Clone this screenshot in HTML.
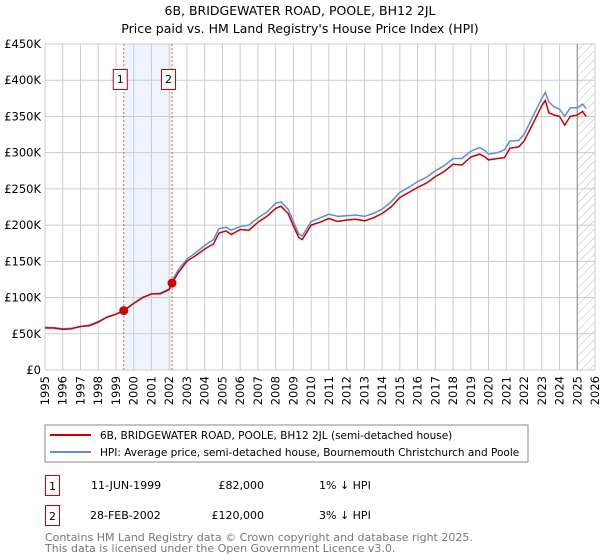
<!DOCTYPE html>
<html><head><meta charset="utf-8"><style>
body{margin:0;background:#fff}
svg{display:block;font-family:"DejaVu Sans","Liberation Sans",sans-serif}
</style></head><body>
<svg id="chart" width="600" height="560" viewBox="0 0 600 560">
<defs><pattern id="hatch" width="6" height="6" patternUnits="userSpaceOnUse" patternTransform="rotate(45)"><line x1="0" y1="0" x2="0" y2="6" stroke="#bbb" stroke-width="1"/></pattern></defs>
<text x="300" y="15" text-anchor="middle" font-size="12.5">6B, BRIDGEWATER ROAD, POOLE, BH12 2JL</text>
<text x="300" y="33" text-anchor="middle" font-size="12.5">Price paid vs. HM Land Registry's House Price Index (HPI)</text>
<g id="grid"></g>
<g id="marks"></g>
<g id="axes"></g>
<rect x="45" y="425" width="483" height="37" fill="none" stroke="#888"/>
<line x1="50" y1="435" x2="91" y2="435" stroke="#cc0000" stroke-width="2"/>
<text x="100" y="439" font-size="10.5">6B, BRIDGEWATER ROAD, POOLE, BH12 2JL (semi-detached house)</text>
<line x1="50" y1="452" x2="91" y2="452" stroke="#5b8fd4" stroke-width="2"/>
<text x="100" y="456" font-size="10.5">HPI: Average price, semi-detached house, Bournemouth Christchurch and Poole</text>
<g font-size="11">
<rect x="45.5" y="475.5" width="14" height="20" fill="none" stroke="#cc0000"/>
<text x="52.5" y="490" text-anchor="middle">1</text>
<text x="91" y="489">11-JUN-1999</text>
<text x="264" y="489" text-anchor="end">£82,000</text>
<text x="319" y="489">1% ↓ HPI</text>
<rect x="45.5" y="505.5" width="14" height="20" fill="none" stroke="#cc0000"/>
<text x="52.5" y="520" text-anchor="middle">2</text>
<text x="90" y="519">28-FEB-2002</text>
<text x="264" y="519" text-anchor="end">£120,000</text>
<text x="319" y="519">3% ↓ HPI</text>
</g>
<text x="45" y="541" font-size="11" fill="#777">Contains HM Land Registry data © Crown copyright and database right 2025.</text>
<text x="45" y="552" font-size="11" fill="#777">This data is licensed under the Open Government Licence v3.0.</text>
</svg>
<script>
const yearTicks=[1995,1996,1997,1998,1999,2000,2001,2002,2003,2004,2005,2006,2007,2008,2009,2010,2011,2012,2013,2014,2015,2016,2017,2018,2019,2020,2021,2022,2023,2024,2025,2026];
const valueTicks=[0,50,100,150,200,250,300,350,400,450];
const valueTickLabels=["£0","£50K","£100K","£150K","£200K","£250K","£300K","£350K","£400K","£450K"];
const hpiYears=[1995.0,1995.5,1996.0,1996.5,1997.0,1997.5,1998.0,1998.5,1999.0,1999.44,2000.0,2000.5,2001.0,2001.5,2002.0,2002.16,2002.5,2003.0,2003.5,2004.0,2004.5,2004.8,2005.2,2005.5,2006.0,2006.5,2007.0,2007.5,2008.0,2008.3,2008.7,2009.0,2009.3,2009.5,2010.0,2010.5,2011.0,2011.5,2012.0,2012.5,2013.0,2013.5,2014.0,2014.5,2015.0,2015.5,2016.0,2016.5,2017.0,2017.5,2018.0,2018.5,2019.0,2019.5,2019.8,2020.0,2020.5,2020.9,2021.2,2021.7,2022.0,2022.5,2023.0,2023.2,2023.4,2023.7,2024.0,2024.3,2024.6,2025.0,2025.3,2025.5];
const hpiValues=[59,58.5,57,57.5,60,62,67,73,77,82.5,92,100,105,106,112,123,138,153,162,172,180,195,197,193,198,200,210,218,230,232,222,205,188,185,205,210,215,212,213,214,212,216,222,232,245,252,260,266,275,282,292,292,302,307,303,298,300,304,316,317,325,350,375,383,370,363,360,350,362,362,367,361];
const priceValues=[58,58,56,57,60,61,66,73,77,82,92,100,105,105,111,120,134,150,158,167,174,189,192,187,194,193,204,212,223,226,216,199,183,180,200,204,209,205,207,208,206,210,216,225,238,245,252,258,267,274,284,283,294,298,294,290,292,293,306,308,316,340,365,372,355,352,350,338,350,352,357,350];
const saleYears=[1999.44,2002.16];
const saleValues=[82,120];
const saleLabels=["1","2"];
const dataEndYear=2025.0;

const X0=45,X1=595,Y0=370,Y1=44;
const x=y=>X0+(y-1995)/(2026-1995)*(X1-X0);
const yv=v=>Y0-v/450*(Y0-Y1);
const NS="http://www.w3.org/2000/svg";
function mk(tag,attrs,parent){const e=document.createElementNS(NS,tag);for(const k in attrs)e.setAttribute(k,attrs[k]);parent.appendChild(e);return e;}
const grid=document.getElementById('grid'),marks=document.getElementById('marks'),axes=document.getElementById('axes');

let sh=mk('rect',{x:x(saleYears[0]),y:Y1,width:x(saleYears[1])-x(saleYears[0]),height:Y0-Y1,fill:'#eef3fc'},grid);


let ht=mk('rect',{x:x(dataEndYear),y:Y1,width:X1-x(dataEndYear),height:Y0-Y1,fill:'url(#hatch)'},grid);


yearTicks.forEach(t=>{
  const l=mk('line',{x1:x(t),x2:x(t),y1:Y1,y2:Y0,stroke:'#ccc','stroke-width':1},grid);
  
  
  const tx=mk('text',{x:0,y:0,'font-size':11.5,'text-anchor':'end',transform:`translate(${x(t)+4},${Y0+6}) rotate(-90)`},axes);
  tx.textContent=t;
  
  
});
valueTicks.forEach((v,i)=>{
  const l=mk('line',{x1:X0,x2:X1,y1:yv(v),y2:yv(v),stroke:'#ccc','stroke-width':1},grid);
  
  
  const tx=mk('text',{x:X0-4,y:yv(v)+4,'font-size':11.5,'text-anchor':'end'},axes);
  tx.textContent=valueTickLabels[i];
  
  
});
let el=mk('line',{x1:x(dataEndYear),x2:x(dataEndYear),y1:Y1,y2:Y0,stroke:'#888','stroke-width':1},grid);


saleYears.forEach((s,i)=>{
  const l=mk('line',{x1:x(s),x2:x(s),y1:Y1,y2:Y0,stroke:'#e06060','stroke-dasharray':'2,2','stroke-width':1},grid);
  
  
  const b=mk('rect',{x:x(s)-10.5,y:69.5,width:14,height:20,fill:'#fff',stroke:'#cc0000'},axes);
  
  
  const t=mk('text',{x:x(s)-3.5,y:83,'font-size':11,'text-anchor':'middle'},axes);
  t.textContent=saleLabels[i];
  
  
});
const pts=(ys,vs)=>ys.map((t,i)=>x(t).toFixed(1)+','+yv(vs[i]).toFixed(1)).join(' ');
let hl=mk('polyline',{points:pts(hpiYears,hpiValues),fill:'none',stroke:'#5b8fd4','stroke-width':1.5},marks);


let pl=mk('polyline',{points:pts(hpiYears,priceValues),fill:'none',stroke:'#cc0000','stroke-width':1.5},marks);


saleYears.forEach((s,i)=>{
  const c=mk('circle',{cx:x(s),cy:yv(saleValues[i]),r:4.5,fill:'#cc0000'},marks);
  
  
});
</script>
</body></html>
